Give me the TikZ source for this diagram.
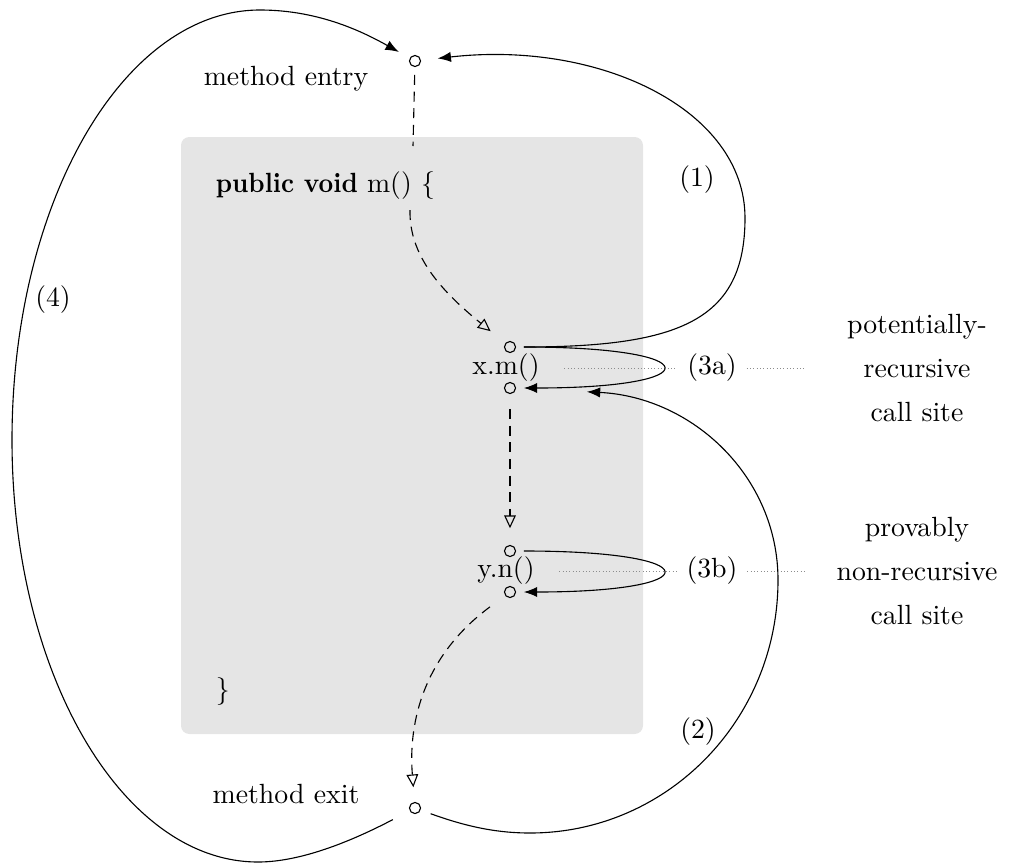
\documentclass[tikz,border=0pt]{standalone}
\usetikzlibrary{arrows.meta}
\begin{document}
\begin{tikzpicture}[x=0.36pt,y=-0.36pt,
  pt/.style={circle,draw,inner sep=0pt,minimum size=4pt,outer sep=3pt},
  flowline/.style={dash pattern=on 3.6pt off 2.4pt},
  flow/.style={flowline,-{Triangle[open,length=4.6pt,width=4.2pt]}},
  call/.style={-{Latex[length=4.8pt,width=3.7pt]}},
  guide/.style={black!45,line width=0.35pt,dash pattern=on 0.35pt off 0.85pt},
  desc/.style={align=center,text width=73pt}]
\useasboundingbox (0,0) rectangle (1011,863);
\fill[black!10,rounded corners=3pt] (181,137) rectangle (643,734);

% program points
\node[pt] (entry) at (415,61) {};
\node[pt] (exit) at (415,808) {};
\node[pt] (xmin) at (510,347) {};
\node[pt] (xmout) at (510,388) {};
\node[pt] (ynin) at (510,551) {};
\node[pt] (ynout) at (510,592) {};

% texts
\node[anchor=base] (entrylbl) at (286,85) {method entry};
\node[anchor=base] (exitlbl) at (286,803) {method exit};
\node[anchor=base west] (decl) at (206,192) {\scalebox{0.92}[1]{\textbf{public void}} m() \{};
\node[anchor=base west] (close) at (206,698) {\}};
\node (xm) at (506,368) {x.m()};
\node (yn) at (506,571) {y.n()};
\node (l1) at (697,180) {(1)};
\node (l2) at (698,732) {(2)};
\node (l3a) at (712,368) {(3a)};
\node (l3b) at (712,571) {(3b)};
\node (l4) at (53,300) {(4)};
\node[desc] (d3a) at (917,368) {potentially-\\[3.8pt]recursive\\[3.8pt]call site};
\node[desc] (d3b) at (917,571) {provably\\[3.8pt]non-recursive\\[3.8pt]call site};

% guides
\draw[guide,shorten <=5.4pt] (xm.east) -- (l3a.west);
\draw[guide] (l3a.east) -- (d3a.west);
\draw[guide,shorten <=5.4pt] (yn.east) -- (l3b.west);
\draw[guide] (l3b.east) -- (d3b.west);

% intraprocedural flow
\coordinate (declin) at (413,146);
\coordinate (declout) at (410,210);
\draw[flowline] (entry) -- (declin);
\draw[flow,shorten >=4pt] (declout) .. controls (409,255) and (440,290) .. (xmin);
\draw[flow,shorten <=2.5pt,shorten >=3.2pt] (xmout) -- (ynin);
\draw[flow,shorten <=4pt,shorten >=2.5pt] (ynout) .. controls (425,655) and (408,720) .. (exit);

% call edges
\draw[call] (xmin) .. controls (710,347) and (710,388) .. (xmout);
\draw[call] (ynin) .. controls (710,551) and (710,592) .. (ynout);
\draw[call,shorten >=3.2pt] (xmin) .. controls (680,347) and (745,320) .. (745,218)
   .. controls (745,110) and (600,40) .. (entry);
\draw[call,shorten <=1pt,shorten >=22.7pt] (exit) .. controls (470,828) and (500,833) .. (530,833)
   .. controls (667,833) and (778,720) .. (778,580)
   .. controls (778,477) and (693,397) .. (xmout);
\draw[call,shorten <=4pt,shorten >=1.7pt] (exit) .. controls (350,842) and (300,862) .. (258,862)
   .. controls (122,862) and (12,673) .. (12,440)
   .. controls (12,203) and (123,10) .. (260,10)
   .. controls (320,10) and (365,33) .. (entry);
\end{tikzpicture}
\end{document}
